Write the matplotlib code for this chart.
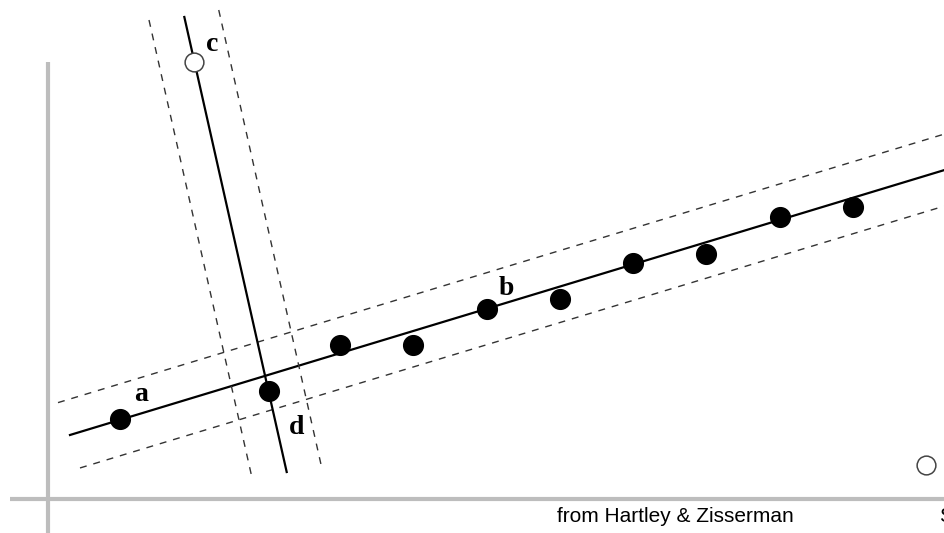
import numpy as np
import matplotlib.pyplot as plt

# inlier points along the main line (image coords, y grows downwards)
pts_x = [120, 269, 340, 413, 487, 560, 633, 706, 780, 853]
pts_y = [419, 391, 345, 345, 309, 299, 263, 254, 217, 207]

# outliers
out_x = [194, 926]
out_y = [62, 465]

# good line: y = y0 + k*x, band of +-36 px
k_main = -0.303
y0_main = 456.2
band_main = 36
main_x = [70, 944]
upper_x = [58, 944]
lower_x = [80, 944]

# bad line through c and d: x = x0 + m*y
m_steep = 0.225
x0_steep = 180.5
band_steep = 36
steep_y = [17, 472]
left_y = [20, 475]
right_y = [10, 468]

labels = ["a", "b", "c", "d"]
label_x = [141, 506, 212, 297]
label_y = [401, 295, 51, 434]

W, H = 944, 533
fig = plt.figure(figsize=(W / 100, H / 100), dpi=100)
ax = fig.add_axes([0, 0, 1, 1])
ax.set_xlim(0, W)
ax.set_ylim(H, 0)
ax.axis("off")

# coordinate axes
ax.plot([47.5, 47.5], [62, H], color="#bdbdbd", lw=3, solid_capstyle="butt")
ax.plot([10, W], [498.5, 498.5], color="#bdbdbd", lw=3, solid_capstyle="butt")

dash = dict(color="#333333", lw=1.0, dashes=(5, 5))

# main line with its threshold band
mx = np.array(main_x)
ax.plot(mx, y0_main + k_main * mx, color="black", lw=1.6)
ux = np.array(upper_x)
ax.plot(ux, y0_main + k_main * ux - band_main, **dash)
lx = np.array(lower_x)
ax.plot(lx, y0_main + k_main * lx + band_main, **dash)

# steep line with its band
sy = np.array(steep_y)
ax.plot(x0_steep + m_steep * sy, sy, color="black", lw=1.6)
ly = np.array(left_y)
ax.plot(x0_steep + m_steep * ly - band_steep, ly, **dash)
ry = np.array(right_y)
ax.plot(x0_steep + m_steep * ry + band_steep, ry, **dash)

ax.plot(pts_x, pts_y, "o", color="black", ms=14.2, zorder=5)
ax.plot(out_x, out_y, "o", mfc="white", mec="#444444", mew=1.1, ms=13.5, zorder=5)

for t, x, y in zip(labels, label_x, label_y):
    ax.text(x, y, t, ha="center", va="baseline", fontsize=20,
            fontweight="bold", family="Liberation Serif")

ax.text(557, 522, "from Hartley & Zisserman", ha="left", va="baseline",
        fontsize=15, family="Liberation Sans")
ax.text(939, 522, "S", ha="left", va="baseline", fontsize=15,
        family="Liberation Sans")

fig.savefig("out.png", dpi=100)
